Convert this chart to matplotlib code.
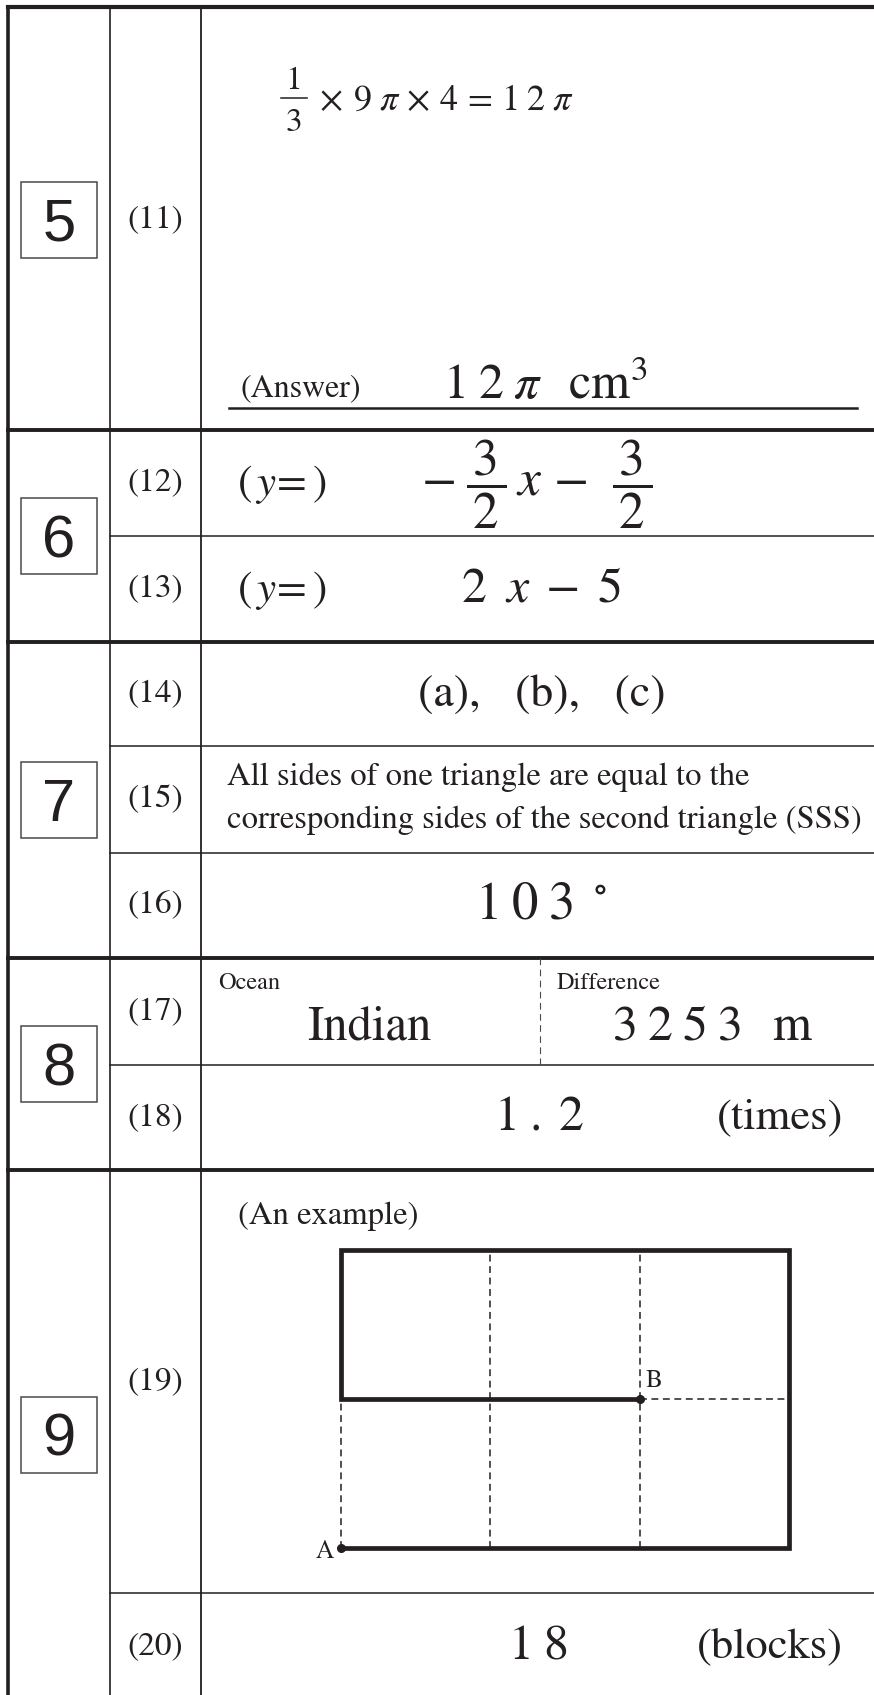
import matplotlib
matplotlib.use("Agg")

import matplotlib.pyplot as plt
from matplotlib.patches import Rectangle

plt.rcParams["mathtext.fontset"] = "stix"
plt.rcParams["font.family"] = ["STIXGeneral", "DejaVu Serif"]

INK  = "#231f20"
GREY = "#4a4a4a"

# -----------------------------
# DATA
# -----------------------------
sections      = ["5", "6", "7", "8", "9"]
section_sizes = [1, 2, 3, 2, 2]          # questions in each section
questions     = ["(11)", "(12)", "(13)", "(14)", "(15)",
                 "(16)", "(17)", "(18)", "(19)", "(20)"]

work_11_frac = ["1", "3"]
work_11    = r"$\times\;\,9\;\pi\,\times\,4\,=\,1\;2\;\pi$"
answer_11  = r"$1\;2\;\pi\;\;\;\mathrm{cm}^{3}$"
prefix_y   = r"$(\,y\!=\!\,)$"
answer_12  = r"$-\;\dfrac{\,3\,}{\,2\,}\,x\,-\;\,\dfrac{\,3\,}{\,2\,}$"
answer_13  = r"$2\;\;x\;-\;5$"
answer_14  = "(a),   (b),   (c)"
answer_15  = ["All sides of one triangle are equal to the",
              "corresponding sides of the second triangle (SSS)"]
answer_16  = r"$1\;0\;3\;\,^{\circ}$"
heads_17   = ["Ocean", "Difference"]
answer_17  = ["Indian", r"$3\;2\;5\;3\;\;\;\mathrm{m}$"]
answer_18  = r"$1\;.\;2$"
unit_18    = "(times)"
caption_19 = "(An example)"
answer_20  = r"$1\;8$"
unit_20    = "(blocks)"

# path drawn on a 3 x 2 block grid, from A to B
grid_cols, grid_rows = 3, 2
path_x = [0, 3, 3, 0, 0, 2]
path_y = [0, 0, 2, 2, 1, 1]
dashed_segments = [((1, 1), (0, 2)), ((2, 2), (0, 2)),
                   ((0, 0), (0, 1)), ((2, 3), (1, 1))]
point_names = ["A", "B"]
point_x     = [0, 2]
point_y     = [0, 1]

# -----------------------------
# LAYOUT (pixels)
# -----------------------------
W, H = 874, 1695
row_edges = [9, 430, 536, 642, 746, 853, 958, 1065, 1170, 1593, 1700]
COL1, COL2 = 110, 201
LEFT = 8

fig = plt.figure(figsize=(W / 100, H / 100), dpi=100)
ax = fig.add_axes([0, 0, 1, 1])
ax.set_xlim(0, W)
ax.set_ylim(H, 0)
ax.axis("off")


def line(x, y, lw, **kw):
    ax.plot(x, y, color=INK, lw=lw, solid_capstyle="projecting", **kw)


def txt(x, y, s, size, ha="center", va="center", **kw):
    ax.text(x, y, s, fontsize=size, ha=ha, va=va, color=INK, **kw)


# frame
line([LEFT, W], [7, 7], 3.0)
line([LEFT, LEFT], [7, H], 2.6)
line([COL1, COL1], [7, H], 1.2)
line([COL2, COL2], [7, H], 1.3)

# section separators (thick) and question separators (thin)
idx = 0
for name, n in zip(sections, section_sizes):
    top = row_edges[idx]
    bot = row_edges[idx + n]
    if idx > 0:
        line([LEFT, W], [top, top], 2.8)
    for k in range(1, n):
        y = row_edges[idx + k]
        line([COL1, W], [y, y], 1.1)
    mid = (top + bot) / 2
    ax.add_patch(Rectangle((21, mid - 38), 76, 76, fill=False, ec=GREY, lw=1.1))
    ax.text(59, mid + 21, name, fontsize=43, ha="center", va="baseline",
            color=INK, family=["Liberation Sans", "DejaVu Sans"])
    idx += n

# question labels
for i, q in enumerate(questions):
    mid = (row_edges[i] + row_edges[i + 1]) / 2
    txt(155, mid, q, 24)

# (11) working: hand-set fraction, then the rest of the line
txt(294, 89, work_11_frac[0], 24, va="baseline")
txt(294, 131, work_11_frac[1], 24, va="baseline")
ax.plot([281, 307], [98, 98], color=INK, lw=1.1)
txt(319, 110, work_11, 26, ha="left", va="baseline")
txt(240, 389, "(Answer)", 23, ha="left")
txt(443, 399, answer_11, 36, ha="left", va="baseline")
line([229, 857], [408, 408], 1.8, zorder=3)

# (12), (13)
txt(237, 484, prefix_y, 31, ha="left")
txt(421, 484, answer_12, 37, ha="left")
txt(237, 590, prefix_y, 31, ha="left")
txt(461, 590, answer_13, 36, ha="left")

# (14) - (16)
txt(542, 695, answer_14, 33)
txt(227, 777, answer_15[0], 23.5, ha="left")
txt(227, 820, answer_15[1], 23.5, ha="left")
txt(541, 906, answer_16, 38)

# (17), (18)
ax.plot([540, 540], [958, 1065], color=GREY, lw=0.8, ls=(0, (6, 4)))
txt(218, 983, heads_17[0], 17.5, ha="left")
txt(557, 983, heads_17[1], 17.5, ha="left")
txt(369, 1028, answer_17[0], 35)
txt(712, 1028, answer_17[1], 36)
txt(539, 1118, answer_18, 36)
txt(843, 1118, unit_18, 32, ha="right")

# (19)
txt(238, 1216, caption_19, 23.5, ha="left")

gx0, gx1, gy0, gy1 = 341, 789, 1250, 1548
g = fig.add_axes([gx0 / W, (H - gy1) / H, (gx1 - gx0) / W, (gy1 - gy0) / H])
g.set_xlim(0, grid_cols)
g.set_ylim(0, grid_rows)
g.axis("off")
for xs, ys in dashed_segments:
    g.plot(xs, ys, color=INK, lw=1.1, ls=(0, (4.5, 3)), clip_on=False)
g.plot(path_x, path_y, color=INK, lw=3.4, solid_joinstyle="miter",
       solid_capstyle="butt", clip_on=False)
g.plot(point_x, point_y, "o", color=INK, ms=5.5, clip_on=False)
g.annotate(point_names[0], (point_x[0], point_y[0]), xytext=(-5, -3),
           textcoords="offset points", ha="right", va="center",
           fontsize=18, color=INK)
g.annotate(point_names[1], (point_x[1], point_y[1]), xytext=(4, 4),
           textcoords="offset points", ha="left", va="bottom",
           fontsize=18, color=INK)

# (20)
txt(538, 1647, answer_20, 36)
txt(843, 1647, unit_20, 32, ha="right")

fig.savefig("out.png", dpi=100)
